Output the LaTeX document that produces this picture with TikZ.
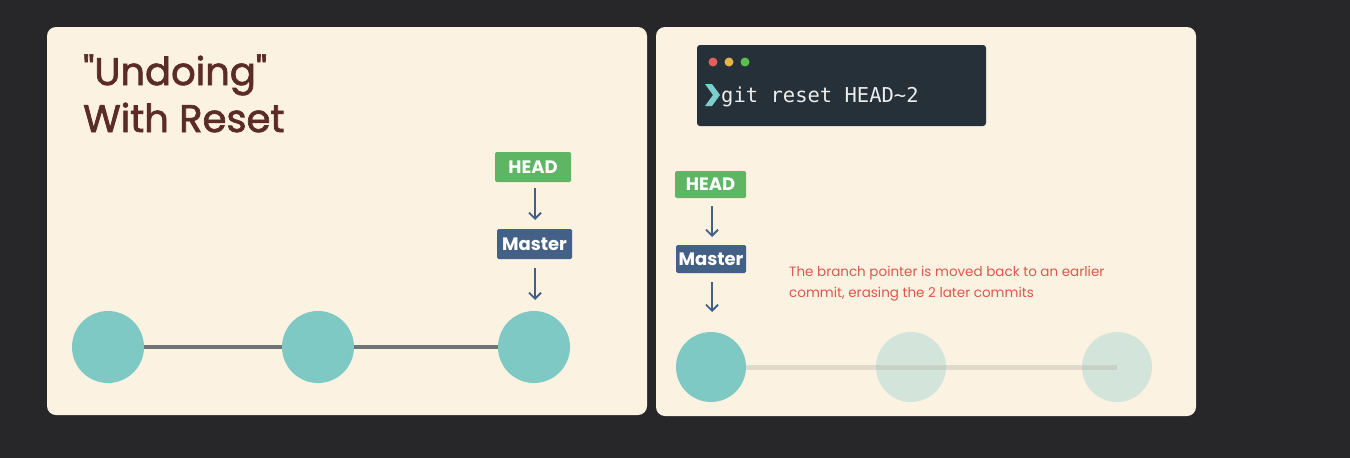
\documentclass[tikz,border=0pt]{standalone}
\usepackage{fontspec}
\setmainfont{Poppins}
\newfontfamily\titlefont{Poppins}[Ligatures=TeXOff, FakeBold=1.8]
\newfontfamily\codefont{DejaVu Sans Mono}
\usetikzlibrary{arrows.meta}
\definecolor{bgdark}{HTML}{272729}
\definecolor{panel}{HTML}{FCF2E2}
\definecolor{titlec}{HTML}{5A2B28}
\definecolor{headg}{HTML}{5EB563}
\definecolor{masterb}{HTML}{436186}
\definecolor{commit}{HTML}{7FC9C4}
\definecolor{ghost}{HTML}{D3E5DB}
\definecolor{linegray}{HTML}{6F7476}
\definecolor{ghostline}{HTML}{B9B4AA}
\definecolor{term}{HTML}{263038}
\definecolor{termtext}{HTML}{ECECEC}
\definecolor{prompt}{HTML}{7CCFCB}
\definecolor{note}{HTML}{E0564C}
\definecolor{dred}{HTML}{E0605A}
\definecolor{dyel}{HTML}{E6B44A}
\definecolor{dgrn}{HTML}{5DBE50}
\tikzset{
  panelbox/.style={fill=panel, rounded corners=9pt},
  titletext/.style={anchor=base west, text=titlec, font=\titlefont\fontsize{38.5}{38.5}\selectfont, inner sep=0pt},
  reflabel/.style={text=white, font=\fontsize{18}{18}\selectfont\bfseries, inner sep=0pt, rounded corners=1.5pt},
  ptr/.style={draw=masterb, line width=1.8pt, -{Straight Barb[length=6pt,width=12pt,line width=1.8pt]}},
  commitnode/.style={circle, fill=commit, minimum size=72pt, inner sep=0pt},
  ghostnode/.style={circle, fill=ghost, minimum size=70pt, inner sep=0pt},
}
\begin{document}
\begin{tikzpicture}[x=1pt,y=-1pt]
\useasboundingbox (0,0) rectangle (1350,458);
\fill[bgdark] (0,0) rectangle (1350,458);
% panels
\fill[panelbox] (47,27) rectangle (647,415);
\fill[panelbox] (656,27) rectangle (1196,416);
% title
\node[titletext] (t1) at (83,85) {"Undoing"};
\node[titletext] (t2) at (83,132) {With Reset};
% left graph
\node[commitnode] (c1) at (108,347) {};
\node[commitnode] (c2) at (318,347) {};
\node[commitnode] (c3) at (534,347) {};
\draw[linegray, line width=4pt] (c1.east) -- (c2.west);
\draw[linegray, line width=4pt] (c2.east) -- (c3.west);
\node[reflabel, fill=headg, minimum width=76pt, minimum height=30pt] (h1) at (533,167) {HEAD};
\node[reflabel, fill=masterb, minimum width=75pt, minimum height=30pt] (m1) at (534.5,244) {Master};
\draw[ptr] (535,188) -- (535,220);
\draw[ptr] (535,268) -- (535,300);
% terminal
\fill[term, rounded corners=3pt] (697,45) rectangle (986,126);
\fill[dred] (713,62) circle (4.5pt);
\fill[dyel] (729,62) circle (4.5pt);
\fill[dgrn] (745,62) circle (4.5pt);
\fill[prompt] (705,84) -- (712,84) -- (720,95) -- (712,106) -- (705,106) -- (713,95) -- cycle;
\node[anchor=base west, text=termtext, font=\codefont\fontsize{20.5}{20.5}\selectfont, inner sep=0pt] (cmd) at (721,102) {git reset HEAD\char`\~2};
% right graph
\node[ghostnode] (g2) at (911,367) {};
\node[ghostnode] (g3) at (1117,367) {};
\node[commitnode, minimum size=70pt] (d1) at (711,367) {};
\draw[ghostline, opacity=0.4, line width=5pt] (d1.east) -- (g3.center);
\node[reflabel, fill=headg, minimum width=71pt, minimum height=27pt] (h2) at (710.5,184.5) {HEAD};
\node[reflabel, fill=masterb, minimum width=70pt, minimum height=28pt] (m2) at (711,259) {Master};
\draw[ptr] (712,206) -- (712,237);
\draw[ptr] (712,282) -- (712,312);
% note
\node[anchor=base west, align=left, text=note, font=\fontsize{13.5}{21}\selectfont, inner sep=0pt] (nt) at (789,297) {The branch pointer is moved back to an earlier\\commit, erasing the 2 later commits};
\end{tikzpicture}
\end{document}
